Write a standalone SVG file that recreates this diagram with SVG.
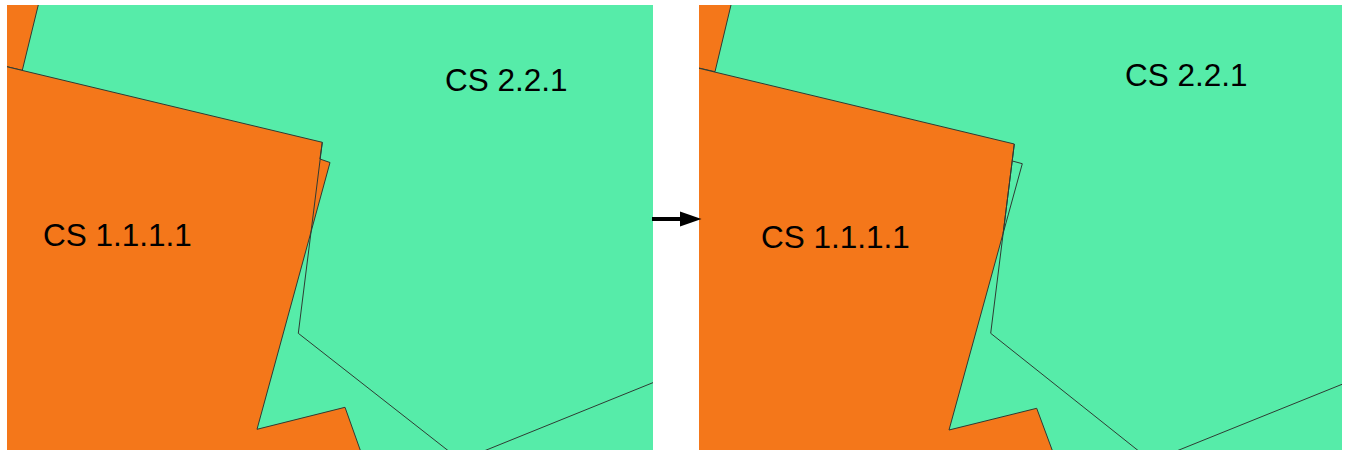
<svg xmlns="http://www.w3.org/2000/svg" width="1348" height="450" viewBox="0 0 1348 450">
<style>
.g{fill:#56ECA9;stroke:none}
.o{fill:#F4771A;stroke:#2f3b33;stroke-width:1}
.ln{fill:none;stroke:#2f3b33;stroke-width:1}
.t{font-family:"Liberation Sans",Arial,sans-serif;font-size:31.5px;fill:#000}
</style>
<defs>
<clipPath id="cl"><rect x="7" y="5" width="646" height="445"/></clipPath>
<clipPath id="cr"><rect x="699" y="5" width="643" height="445"/></clipPath>
</defs>
<rect width="1348" height="450" fill="#fff"/>
<g id="before" clip-path="url(#cl)">
<rect class="g" x="7" y="5" width="646" height="445"/>
<polygon class="o" points="0,0 39.5,0 22.3,70.3 0,65"/>
<polygon class="o" points="0,65.1 322.3,142.3 319.9,159 330,162.5 257,429.3 345,407.3 362,455 0,455"/>
<polyline class="ln" points="322.3,142.3 298.3,333.3 455,456"/>
<line class="ln" x1="474" y1="455" x2="660" y2="379.8"/>
<text id="l221" class="t" x="445" y="91">CS 2.2.1</text>
<text id="l1111" class="t" x="43" y="246">CS 1.1.1.1</text>
</g>
<g id="after" clip-path="url(#cr)">
<rect class="g" x="699" y="5" width="643" height="445"/>
<polygon class="o" points="690,0 732.2,0 715,71.7 690,66"/>
<polygon class="o" points="690,66.1 1014.3,144 1003.2,233.1 949,430 1036.7,408.3 1054,455 690,455"/>
<polyline class="ln" points="1012.3,161 1022.3,163.7 1003.2,233.1"/>
<polyline class="ln" points="1014.3,144 990.7,333.3 1145,456"/>
<line class="ln" x1="1166.6" y1="455" x2="1348" y2="381.9"/>
<text id="r221" class="t" x="1125" y="86">CS 2.2.1</text>
<text id="r1111" class="t" x="761" y="248">CS 1.1.1.1</text>
</g>
<g id="connectors">
<line x1="652" y1="219" x2="681" y2="219" stroke="#000" stroke-width="4"/>
<polygon points="680,211.5 701.5,219 680,226.5" fill="#000"/>
</g>
</svg>
